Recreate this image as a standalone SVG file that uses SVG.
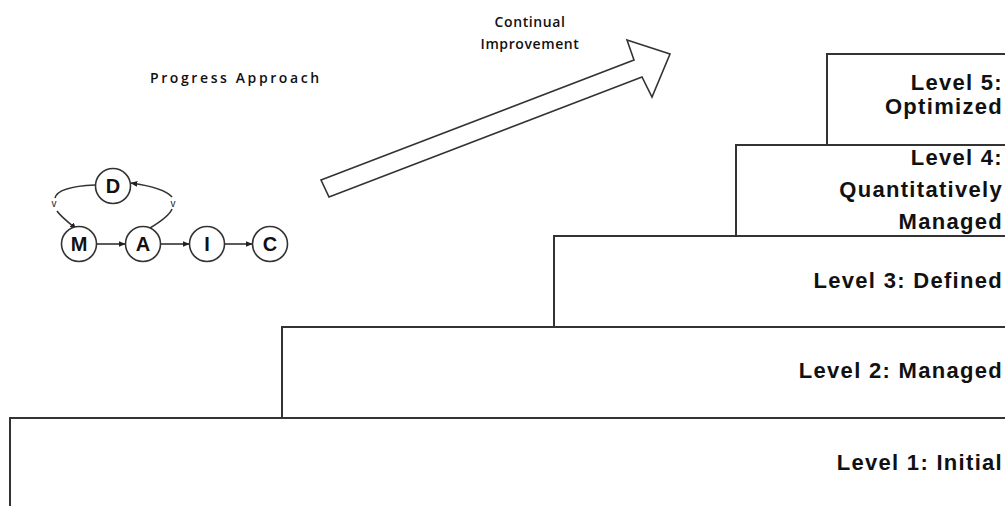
<svg xmlns="http://www.w3.org/2000/svg" width="1005" height="506" viewBox="0 0 1005 506">
  <style>
    .step { fill: #ffffff; stroke: #333333; stroke-width: 2; }
    .lvl { font-family: "Liberation Sans", Arial, sans-serif; font-weight: bold; font-size: 22px; letter-spacing: 1.3px; fill: #111111; text-anchor: end; }
    .node circle { fill: #ffffff; stroke: #333333; stroke-width: 1.6; }
    .node text { font-family: "Liberation Sans", Arial, sans-serif; font-weight: bold; font-size: 20px; fill: #111111; text-anchor: middle; }
    .cap { font-family: "Open Sans", "Liberation Sans", sans-serif; font-size: 14px; font-weight: 600; fill: #111111; }
    .link { fill: none; stroke: #333333; stroke-width: 1.6; }
    .tick { font-family: "Liberation Sans", Arial, sans-serif; font-size: 10px; fill: #222222; text-anchor: middle; }
  </style>
  <defs>
    <marker id="head" viewBox="0 0 10 10" refX="9" refY="5" markerWidth="7" markerHeight="7" markerUnits="userSpaceOnUse" orient="auto">
      <path d="M0,1 L10,5 L0,9 Z" fill="#222222"/>
    </marker>
  </defs>

  <!-- maturity staircase, bottom step first -->
  <g id="level1">
    <rect class="step" x="10" y="418" width="1010" height="100"/>
    <text class="lvl" x="1003" y="470">Level 1: Initial</text>
  </g>
  <g id="level2">
    <rect class="step" x="282" y="327" width="740" height="91"/>
    <text class="lvl" x="1003" y="378">Level 2: Managed</text>
  </g>
  <g id="level3">
    <rect class="step" x="554" y="236" width="470" height="91"/>
    <text class="lvl" x="1003" y="288">Level 3: Defined</text>
  </g>
  <g id="level4">
    <rect class="step" x="736" y="145" width="290" height="91"/>
    <text class="lvl" x="1003" y="165">Level 4:</text>
    <text class="lvl" x="1003" y="197">Quantitatively</text>
    <text class="lvl" x="1003" y="229">Managed</text>
  </g>
  <g id="level5">
    <rect class="step" x="827" y="54" width="200" height="91"/>
    <text class="lvl" x="1003" y="90">Level 5:</text>
    <text class="lvl" x="1003" y="114">Optimized</text>
  </g>

  <!-- improvement arrow -->
  <g id="improvement">
    <path d="M321,180 L634,60 L627,40 L670,54 L652,97 L642,77 L329,197 Z" fill="#ffffff" stroke="#333333" stroke-width="1.6" stroke-linejoin="miter"/>
    <text class="cap" x="530" y="27" text-anchor="middle" letter-spacing="0.6">Continual</text>
    <text class="cap" x="530" y="49" text-anchor="middle" letter-spacing="0.6">Improvement</text>
  </g>

  <g id="approach-title">
    <text class="cap" x="150" y="83" font-size="15" letter-spacing="2.6">Progress Approach</text>
  </g>

  <!-- DMAIC cycle -->
  <g id="connectors">
    <line class="link" x1="97" y1="244" x2="125" y2="244" marker-end="url(#head)"/>
    <line class="link" x1="161" y1="244" x2="189" y2="244" marker-end="url(#head)"/>
    <line class="link" x1="225" y1="244" x2="252" y2="244" marker-end="url(#head)"/>
    <path class="link" d="M95,185 C72,186 57,190 55,198 M57,211 C62,218 70,223 76,229" marker-end="url(#head)"/>
    <path class="link" d="M150,228 C160,222 170,214 172,209 M172,197 C166,190 152,186 131,183" marker-end="url(#head)"/>
    <text class="tick" x="54" y="207">v</text>
    <text class="tick" x="173" y="207">v</text>
  </g>
  <g id="node-d" class="node">
    <circle cx="113" cy="186" r="17.5"/>
    <text x="113" y="193">D</text>
  </g>
  <g id="node-m" class="node">
    <circle cx="79" cy="244" r="17.5"/>
    <text x="79" y="251">M</text>
  </g>
  <g id="node-a" class="node">
    <circle cx="143" cy="244" r="17.5"/>
    <text x="143" y="251">A</text>
  </g>
  <g id="node-i" class="node">
    <circle cx="207" cy="244" r="17.5"/>
    <text x="207" y="251">I</text>
  </g>
  <g id="node-c" class="node">
    <circle cx="270" cy="244" r="17.5"/>
    <text x="270" y="251">C</text>
  </g>
</svg>
